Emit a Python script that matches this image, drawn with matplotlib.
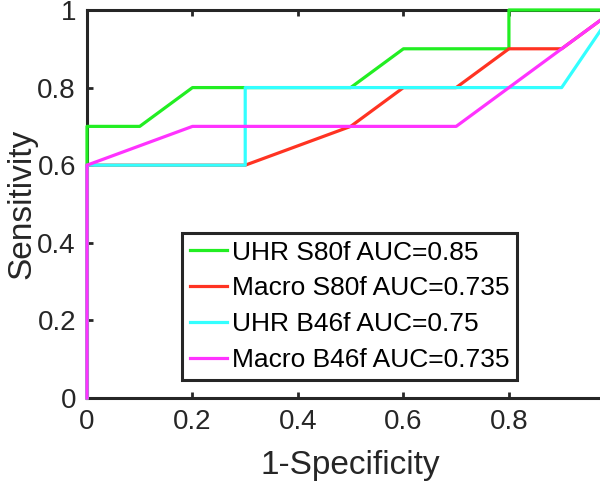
import matplotlib.pyplot as plt

plt.rcParams['font.family'] = ['Liberation Sans', 'DejaVu Sans']

# ROC curves (1-Specificity, Sensitivity)
uhr_s80_x = [0, 0, 0.1, 0.2, 0.5, 0.6, 0.8, 0.8, 1.0]
uhr_s80_y = [0, 0.7, 0.7, 0.8, 0.8, 0.9, 0.9, 1.0, 1.0]
mac_s80_x = [0, 0, 0.3, 0.5, 0.6, 0.7, 0.8, 0.9, 1.0]
mac_s80_y = [0, 0.6, 0.6, 0.7, 0.8, 0.8, 0.9, 0.9, 1.0]
uhr_b46_x = [0, 0, 0.3, 0.3, 0.9, 1.0]
uhr_b46_y = [0, 0.6, 0.6, 0.8, 0.8, 1.0]
mac_b46_x = [0, 0, 0.2, 0.7, 1.0]
mac_b46_y = [0, 0.6, 0.7, 0.7, 1.0]

labels = ['UHR S80f AUC=0.85', 'Macro S80f AUC=0.735',
          'UHR B46f AUC=0.75', 'Macro B46f AUC=0.735']
colores = ['#22ee22', '#ff3322', '#33ffff', '#ff33ff']
ticks = [0, 0.2, 0.4, 0.6, 0.8, 1.0]
xtick_labels = ['0', '0.2', '0.4', '0.6', '0.8', '']
ytick_labels = ['0', '0.2', '0.4', '0.6', '0.8', '1']

fig = plt.figure(figsize=(6, 4.87), dpi=100)
ax = fig.add_axes([0.145, 0.1828, 0.879, 0.7967])

series = [(uhr_s80_x, uhr_s80_y), (mac_s80_x, mac_s80_y),
          (uhr_b46_x, uhr_b46_y), (mac_b46_x, mac_b46_y)]
for (x, y), lab, c in zip(series, labels, colores):
    ax.plot(x, y, color=c, lw=2.3, label=lab, clip_on=False, zorder=3)

ax.set_xlim(0, 1)
ax.set_ylim(0, 1)
ax.set_xticks(ticks)
ax.set_xticklabels(xtick_labels)
ax.set_yticks(ticks)
ax.set_yticklabels(ytick_labels)
ax.tick_params(direction='in', length=4, width=2, labelsize=20, pad=8,
               top=True, right=True, colors='#262626')
for s in ax.spines.values():
    s.set_linewidth(2.2)
    s.set_color('#262626')

ax.set_xlabel('1-Specificity', fontsize=24, color='#262626', labelpad=11)
ax.set_ylabel('Sensitivity', fontsize=24, color='#262626', labelpad=0)

leg = ax.legend(loc='lower left', bbox_to_anchor=(0.18, 0.046), borderaxespad=0,
                fontsize=19, handlelength=1.4, handletextpad=0.2,
                labelspacing=0.45, borderpad=0.3, fancybox=False,
                framealpha=1, edgecolor='#262626')
leg.get_frame().set_linewidth(2.2)

plt.savefig('out.png', dpi=100)
